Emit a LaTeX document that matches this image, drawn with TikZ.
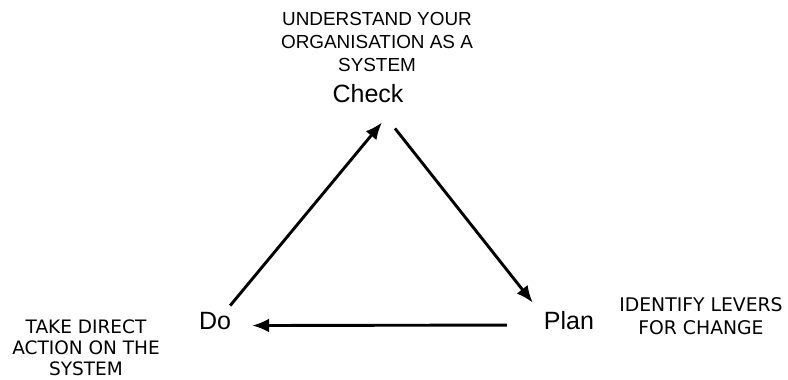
\documentclass[tikz,border=0pt]{standalone}
\usepackage{fontspec}
\usepackage{tikz}
\usetikzlibrary{arrows.meta}
\newfontfamily\stagefont{Liberation Sans}
\newfontfamily\notefont{DejaVu Sans}

\tikzset{
  stage/.style={anchor=base,inner sep=0pt,font={\stagefont\fontsize{25}{30}\selectfont}},
  topnote/.style={anchor=north,inner sep=0pt,align=center,font={\stagefont\fontsize{18.9}{23}\selectfont}},
  sidenote/.style={anchor=north,inner sep=0pt,align=center,font={\notefont\fontsize{18.5}{21}\selectfont}},
  cycle/.style={line width=2.9pt,-{Latex[length=17pt,width=14pt]}}
}

\begin{document}
\begin{tikzpicture}[x=1pt,y=1pt]
\useasboundingbox (0,0) rectangle (788,380);
%stages
\node[stage] (check) at (368,277) {Check};
\node[stage] (do) at (215,50) {Do};
\node[stage] (plan) at (569,50) {Plan};
%notes
\node[topnote] (checknote) at (377,368) {UNDERSTAND YOUR\\ORGANISATION AS A\\SYSTEM};
\node[sidenote] (donote) at (86,60) {TAKE DIRECT\\ACTION ON THE\\SYSTEM};
\node[sidenote,font={\notefont\fontsize{18.8}{23.5}\selectfont}] (plannote) at (701,83) {IDENTIFY LEVERS\\FOR CHANGE};
%cycle
\draw[cycle] ([shift={(-1,7)}]do.north east) -- ([shift={(14,-19)}]check.south);
\draw[cycle] ([shift={(27,-25)}]check.south) -- ([shift={(-11,9)}]plan.north west);
\draw[cycle] ([shift={(-37,-4)}]plan.west) -- ([shift={(21,-4)}]do.east);
\end{tikzpicture}
\end{document}
